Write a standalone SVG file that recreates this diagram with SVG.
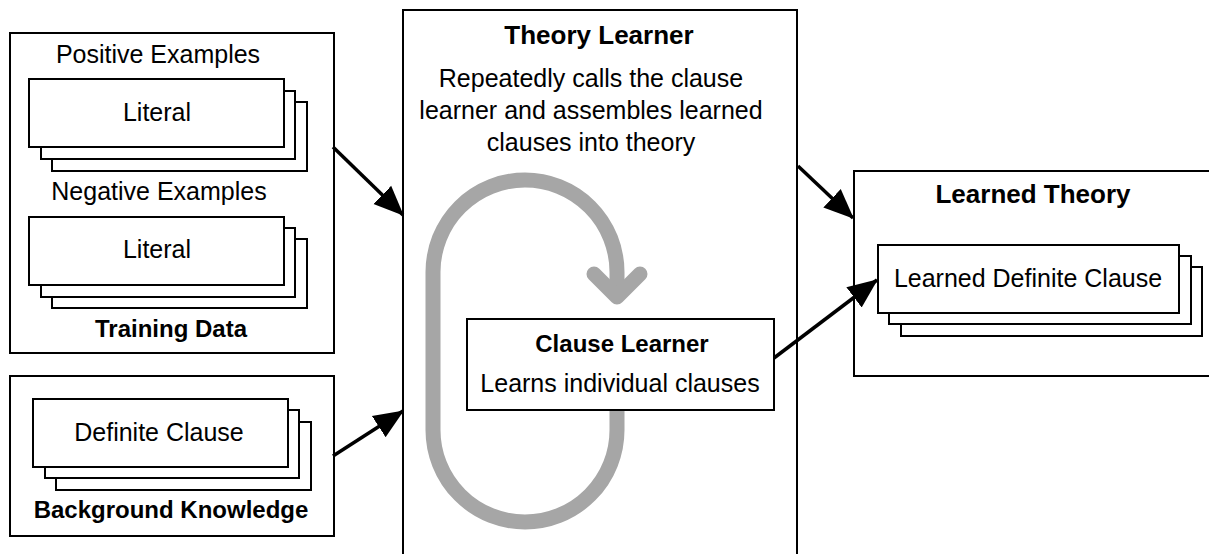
<svg xmlns="http://www.w3.org/2000/svg" width="1209" height="554" viewBox="0 0 1209 554">
<defs>
<style>
.box{fill:#fff;stroke:#000;stroke-width:2}
.t{font-family:"Liberation Sans",Arial,sans-serif;font-size:25px;fill:#000;text-anchor:middle}
.b{font-family:"Liberation Sans",Arial,sans-serif;font-size:24px;font-weight:bold;fill:#000;text-anchor:middle}
.bt{font-size:26px}
.conn{stroke:#000;stroke-width:3.5;fill:none}
.loop{stroke:#a6a6a6;stroke-width:15;fill:none}
</style>
<marker id="ah" markerUnits="userSpaceOnUse" markerWidth="30" markerHeight="30" viewBox="0 0 26 22" refX="25" refY="11" orient="auto">
<path d="M0,0 L26,11 L0,22 Z" fill="#000"/>
</marker>
</defs>
<rect width="1209" height="554" fill="#fff"/>

<g id="training-data">
<rect class="box" x="10" y="33" width="324" height="320"/>
<text class="t" x="158" y="63">Positive Examples</text>
<rect class="box" x="52" y="102" width="255" height="69"/>
<rect class="box" x="41" y="91" width="254" height="68"/>
<rect class="box" x="29" y="79" width="255" height="68"/>
<text class="t" x="157" y="121">Literal</text>
<text class="t" x="159" y="200">Negative Examples</text>
<rect class="box" x="52" y="239" width="255" height="69"/>
<rect class="box" x="41" y="228" width="254" height="69"/>
<rect class="box" x="29" y="217" width="255" height="68"/>
<text class="t" x="157" y="258">Literal</text>
<text class="b" x="171" y="337">Training Data</text>
</g>

<g id="background-knowledge">
<rect class="box" x="10" y="376" width="324" height="160"/>
<rect class="box" x="56" y="422" width="255" height="68"/>
<rect class="box" x="45" y="410" width="254" height="68"/>
<rect class="box" x="33" y="399" width="255" height="68"/>
<text class="t" x="159" y="441">Definite Clause</text>
<text class="b" x="171" y="518">Background Knowledge</text>
</g>

<g id="theory-learner">
<rect class="box" x="403" y="10" width="394" height="560"/>
<text class="b bt" x="599" y="44">Theory Learner</text>
<text class="t" x="591" y="87">Repeatedly calls the clause</text>
<text class="t" x="591" y="119">learner and assembles learned</text>
<text class="t" x="591" y="151">clauses into theory</text>
<path class="loop" d="M433,272 A92,92 0 0 1 617,272 L617,297"/>
<path class="loop" d="M594,274 L617,297 L640,274" stroke-linecap="round" stroke-linejoin="round"/>
<path class="loop" d="M433,272 L433,430 A92,92 0 0 0 617,430 L617,405"/>
</g>

<g id="clause-learner">
<rect class="box" x="467" y="319" width="307" height="91"/>
<text class="b" x="622" y="352">Clause Learner</text>
<text class="t" x="620" y="392">Learns individual clauses</text>
</g>

<g id="learned-theory">
<rect class="box" x="854" y="171" width="380" height="205"/>
<text class="b bt" x="1033" y="203">Learned Theory</text>
<rect class="box" x="901" y="267" width="301" height="69"/>
<rect class="box" x="889" y="256" width="302" height="68"/>
<rect class="box" x="878" y="245" width="301" height="68"/>
<text class="t" x="1028" y="287">Learned Definite Clause</text>
</g>

<g id="connectors">
<line class="conn" x1="333" y1="147" x2="403" y2="215" marker-end="url(#ah)"/>
<line class="conn" x1="333" y1="456" x2="403" y2="411" marker-end="url(#ah)"/>
<line class="conn" x1="798" y1="166" x2="853" y2="218" marker-end="url(#ah)"/>
<line class="conn" x1="774" y1="358" x2="877" y2="280" marker-end="url(#ah)"/>
</g>
</svg>
